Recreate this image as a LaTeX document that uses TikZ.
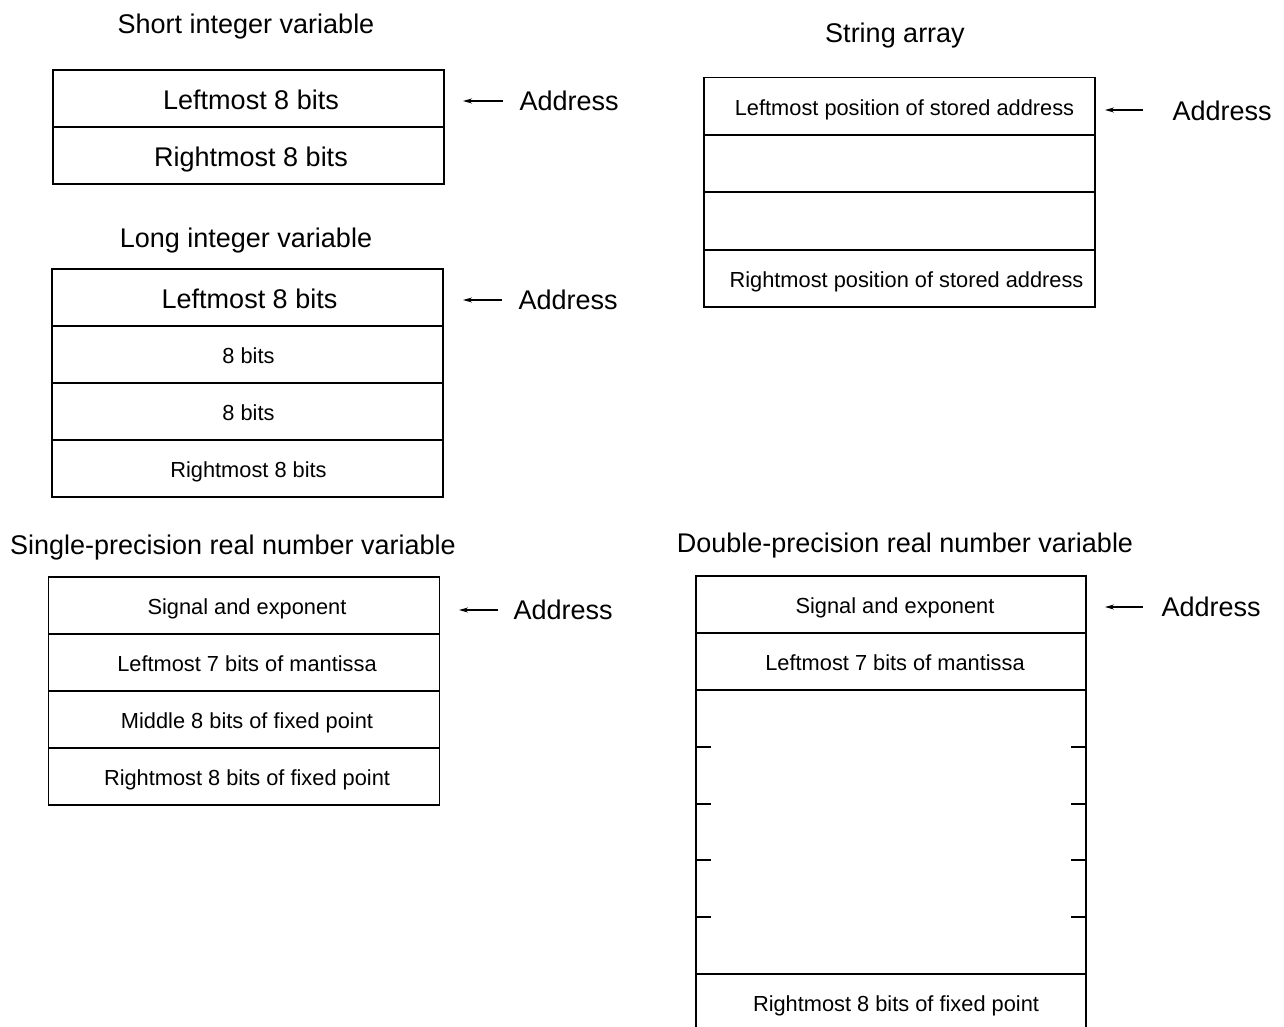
\documentclass[tikz,border=0pt]{standalone}
\usepackage{fontspec}
\setmainfont{Liberation Sans}
\usetikzlibrary{arrows.meta}
\begin{document}
\begin{tikzpicture}[x=1pt,y=-1pt,
  big/.style={font=\fontsize{27}{32}\selectfont},
  small/.style={font=\fontsize{21.8}{26}\selectfont, text height=18.5pt, text depth=0pt},
  cellA/.style={draw, line width=1.2pt, inner sep=0pt, minimum width=391pt, minimum height=57pt, text height=22pt, text depth=0pt},
  toff/.style={execute at begin node={\hspace*{#1}}},
  ptr/.style={line width=1.2pt, -{Stealth[length=9pt,width=5pt]}},
  lin/.style={line width=1.2pt}]
\useasboundingbox (0,0) rectangle (1284,1027);
\fill[white] (0,0) rectangle (1284,1027);

% Short integer variable
\node[big] (t1) at (246,27) {Short integer variable};
\node[cellA,big,toff=5pt] (s1) at (248.5,98.5) {Leftmost 8 bits};
\node[cellA,big,toff=5pt] (s2) at (248.5,155.5) {Rightmost 8 bits};
\node[big,anchor=west] (ad1) at (516,101) {Address};
\coordinate (ad1s) at (503,101);
\coordinate (ad1e) at (463,101);
\draw[ptr] (ad1s) -- (ad1e);

% Long integer variable
\node[big] (t2) at (246,241) {Long integer variable};
\node[cellA,big,toff=4pt] (l1) at (247.5,297.5) {Leftmost 8 bits};
\node[cellA,small,toff=2pt] (l2) at (247.5,354.5) {8 bits};
\node[cellA,small,toff=2pt] (l3) at (247.5,411.5) {8 bits};
\node[cellA,small,toff=2pt] (l4) at (247.5,468.5) {Rightmost 8 bits};
\node[big,anchor=west] (ad2) at (515,300) {Address};
\coordinate (ad2s) at (502,300);
\coordinate (ad2e) at (463,300);
\draw[ptr] (ad2s) -- (ad2e);

% String array
\node[big] (t3) at (895,36) {String array};
\node[cellA,small,toff=10pt] (a1) at (899.5,106) {Leftmost position of stored address};
\node[cellA,small] (a2) at (899.5,163.5) {};
\node[cellA,small] (a3) at (899.5,221) {};
\node[cellA,small,toff=14pt] (a4) at (899.5,278.5) {Rightmost position of stored address};
\node[big,anchor=west] (ad3) at (1169,111) {Address};
\coordinate (ad3s) at (1143,110);
\coordinate (ad3e) at (1105,110);
\draw[ptr] (ad3s) -- (ad3e);

% Single-precision
\node[big] (t4) at (233,548) {Single-precision real number variable};
\node[cellA,small,toff=6pt] (p1) at (244,605.5) {Signal and exponent};
\node[cellA,small,toff=6pt] (p2) at (244,662.5) {Leftmost 7 bits of mantissa};
\node[cellA,small,toff=6pt] (p3) at (244,719.5) {Middle 8 bits of fixed point};
\node[cellA,small,toff=6pt] (p4) at (244,776.5) {Rightmost 8 bits of fixed point};
\node[big,anchor=west] (ad4) at (510,610) {Address};
\coordinate (ad4s) at (498,610);
\coordinate (ad4e) at (459,610);
\draw[ptr] (ad4s) -- (ad4e);

% Double-precision
\node[big] (t5) at (905,546) {Double-precision real number variable};
\node[cellA,small,minimum width=390pt,toff=8pt] (d1) at (891,604.5) {Signal and exponent};
\node[cellA,small,minimum width=390pt,toff=8pt] (d2) at (891,661.5) {Leftmost 7 bits of mantissa};
\coordinate (dTL) at (696,690);
\coordinate (dTR) at (1086,690);
\coordinate (dBL) at (696,1030);
\coordinate (dBR) at (1086,1030);
\draw[lin] (dTL) -- (dBL);
\draw[lin] (dTR) -- (dBR);
\draw[lin] (696,974) -- (1086,974);
\foreach \yy in {747,804,860,917} {
  \draw[lin] (696,\yy) -- (711,\yy);
  \draw[lin] (1071,\yy) -- (1086,\yy);
}
\node[small] (d9) at (896,1002) {Rightmost 8 bits of fixed point};
\node[big,anchor=west] (ad5) at (1158,607) {Address};
\coordinate (ad5s) at (1143,607);
\coordinate (ad5e) at (1105,607);
\draw[ptr] (ad5s) -- (ad5e);
\end{tikzpicture}
\end{document}
